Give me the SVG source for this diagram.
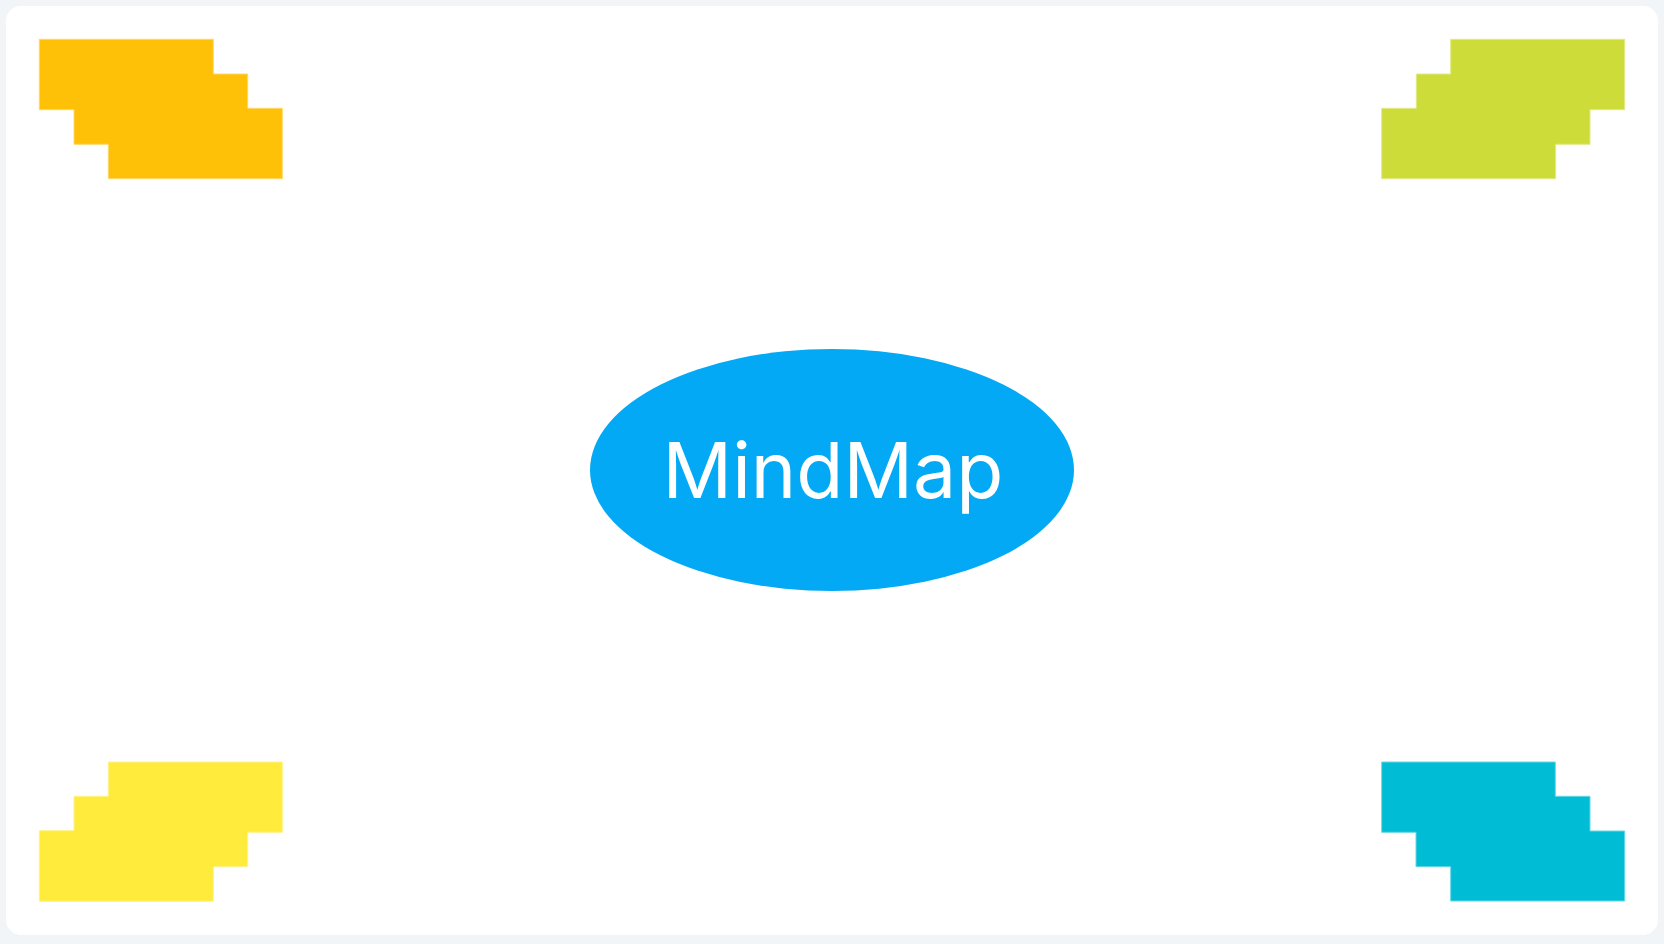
<svg xmlns="http://www.w3.org/2000/svg" width="1664" height="944" viewBox="0 0 1664 944">
  <style>
    .bg { fill: #f1f5f8; }
    .card { fill: #ffffff; }
    .label { font-family: Inter, "Noto Sans", "Liberation Sans", sans-serif; font-size: 77px; fill: #ffffff; }
    .blob { stroke-width: 1; }
  </style>
  <rect class="bg" x="0" y="0" width="1664" height="944"/>
  <rect class="card" x="6" y="6" width="1652" height="929" rx="15" ry="15"/>
  <g id="connectors"></g>
  <g id="node-top-left">
    <path class="blob" fill="#FFC107" stroke="#FFD86A" d="M39.3,39.3 H213.3 V74 H247.7 V108.3 H282.3 V178.7 H108.3 V144.3 H74 V109.7 H39.3 Z"/>
  </g>
  <g id="node-top-right">
    <path class="blob" fill="#CDDC39" stroke="#E0EA85" d="M1624.7,39.3 H1450.7 V74 H1416.3 V108.3 H1381.7 V178.7 H1555.7 V144.3 H1590 V109.7 H1624.7 Z"/>
  </g>
  <g id="node-bottom-left">
    <path class="blob" fill="#FFEB3B" stroke="#FFF28A" d="M282.3,762 H108.3 V796.3 H74 V830.7 H39.3 V901.3 H213.3 V866.7 H247.7 V832.3 H282.3 Z"/>
  </g>
  <g id="node-bottom-right">
    <path class="blob" fill="#00BCD4" stroke="#66D7E5" d="M1381.7,762 H1555.3 V796.3 H1590 V831 H1624.7 V901 H1450.7 V866.7 H1416 V832.3 H1381.7 Z"/>
  </g>
  <g id="node-center">
    <ellipse cx="832" cy="470" rx="242" ry="121" fill="#03A9F4"/>
    <text class="label" x="833" y="498" text-anchor="middle">MindMap</text>
  </g>
</svg>
